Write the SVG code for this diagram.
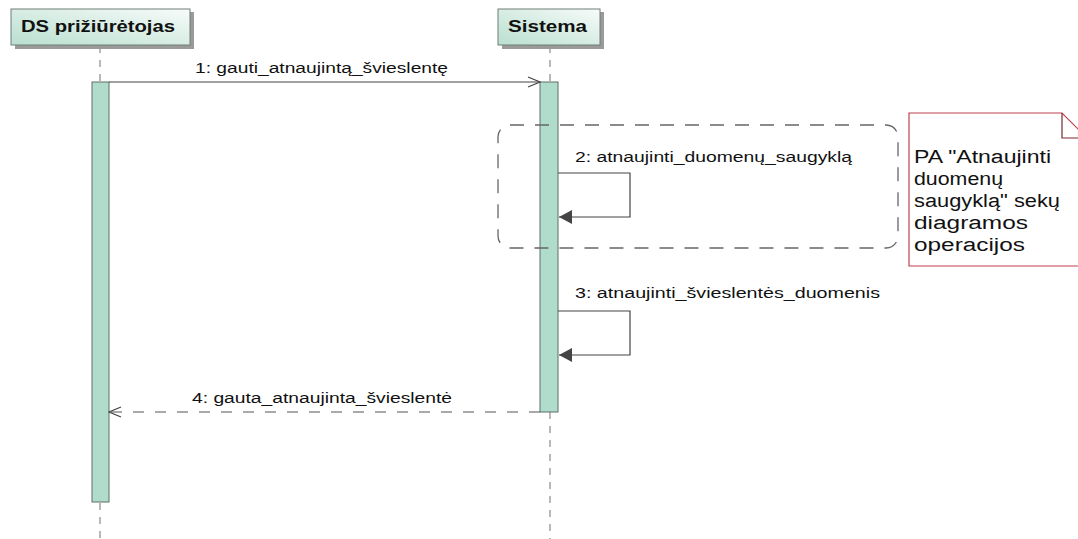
<svg xmlns="http://www.w3.org/2000/svg" width="1078" height="539" viewBox="0 0 1078 539">
  <style>
    .actor { stroke: #6f7f78; stroke-width: 1; fill: url(#actorFill); }
    .shadow { fill: #9a9a9a; }
    .title { font-family: "Liberation Sans", Arial, sans-serif; font-weight: bold; font-size: 16px; fill: #111; }
    .lifeline { stroke: #8a8a8a; stroke-width: 1.2; stroke-dasharray: 7 7; fill: none; }
    .activation { fill: #b0dccb; stroke: #5e6e68; stroke-width: 1; }
    .msg { stroke: #444; stroke-width: 1.2; fill: none; }
    .reply { stroke: #555; stroke-width: 1.2; fill: none; stroke-dasharray: 11 11; }
    .label { font-family: "Liberation Sans", Arial, sans-serif; font-size: 14px; fill: #111; }
    .frame { stroke: #666; stroke-width: 1.3; fill: none; stroke-dasharray: 14 11; }
    .note { fill: #ffffff; stroke: #c0404f; stroke-width: 1.2; }
    .noteText { font-family: "Liberation Sans", Arial, sans-serif; font-size: 18px; fill: #111; }
  </style>
  <defs>
    <linearGradient id="actorFill" x1="0" y1="1" x2="1" y2="0">
      <stop offset="0" stop-color="#b9dfd0"/>
      <stop offset="1" stop-color="#f7fbf9"/>
    </linearGradient>
    <marker id="open" markerWidth="14" markerHeight="12" refX="13" refY="6" orient="auto" markerUnits="userSpaceOnUse">
      <path d="M1,1 L13,6 L1,11" fill="none" stroke="#444" stroke-width="1.2"/>
    </marker>
    <marker id="filled" markerWidth="14" markerHeight="14" refX="13" refY="7" orient="auto" markerUnits="userSpaceOnUse">
      <path d="M0,0 L13,7 L0,14 Z" fill="#444"/>
    </marker>
  </defs>

  <rect width="1078" height="539" fill="#ffffff"/>

  <!-- lifelines -->
  <g id="lifelines">
    <line class="lifeline" x1="100" y1="46" x2="100" y2="82"/>
    <line class="lifeline" x1="100" y1="503" x2="100" y2="539"/>
    <line class="lifeline" x1="550" y1="46" x2="550" y2="82"/>
    <line class="lifeline" x1="550" y1="412" x2="550" y2="539"/>
  </g>

  <!-- participants -->
  <g id="actor-ds">
    <rect class="shadow" x="15" y="12" width="179" height="37"/>
    <rect class="actor" x="11" y="9" width="179" height="36"/>
    <text class="title" x="21" y="32" textLength="154" lengthAdjust="spacingAndGlyphs">DS prižiūrėtojas</text>
  </g>
  <g id="actor-sistema">
    <rect class="shadow" x="502" y="12" width="102" height="37"/>
    <rect class="actor" x="498" y="9" width="102" height="36"/>
    <text class="title" x="508" y="32" textLength="79" lengthAdjust="spacingAndGlyphs">Sistema</text>
  </g>

  <!-- activation bars -->
  <g id="activations">
    <rect class="activation" x="92" y="82" width="17" height="420"/>
    <rect class="activation" x="540" y="82" width="18" height="330"/>
  </g>

  <!-- combined fragment -->
  <g id="fragment">
    <rect class="frame" x="498" y="125" width="400" height="123" rx="12" ry="12"/>
  </g>

  <!-- messages -->
  <g id="connectors">
    <line class="msg" x1="109" y1="82" x2="540" y2="82" marker-end="url(#open)"/>
    <text class="label" x="195" y="73" textLength="253" lengthAdjust="spacingAndGlyphs">1: gauti_atnaujintą_švieslentę</text>

    <path class="msg" d="M558,173 H630 V217 H559" marker-end="url(#filled)"/>
    <text class="label" x="575" y="162" textLength="277" lengthAdjust="spacingAndGlyphs">2: atnaujinti_duomenų_saugyklą</text>

    <path class="msg" d="M558,311 H630 V355 H559" marker-end="url(#filled)"/>
    <text class="label" x="575" y="298" textLength="305" lengthAdjust="spacingAndGlyphs">3: atnaujinti_švieslentės_duomenis</text>

    <line class="reply" x1="540" y1="412" x2="109" y2="412" marker-end="url(#open)"/>
    <text class="label" x="192" y="403" textLength="260" lengthAdjust="spacingAndGlyphs">4: gauta_atnaujinta_švieslentė</text>
  </g>

  <!-- note -->
  <g id="note">
    <path class="note" d="M909,113 H1062 L1090,141 V266 H909 Z"/>
    <path d="M1062,113 V138 H1090" fill="none" stroke="#7a2a30" stroke-width="1.2"/>
    <text class="noteText" x="914" y="163" textLength="137" lengthAdjust="spacingAndGlyphs">PA "Atnaujinti</text>
    <text class="noteText" x="914" y="185" textLength="89" lengthAdjust="spacingAndGlyphs">duomenų</text>
    <text class="noteText" x="914" y="207" textLength="146" lengthAdjust="spacingAndGlyphs">saugyklą" sekų</text>
    <text class="noteText" x="914" y="229" textLength="114" lengthAdjust="spacingAndGlyphs">diagramos</text>
    <text class="noteText" x="914" y="251" textLength="111" lengthAdjust="spacingAndGlyphs">operacijos</text>
  </g>
</svg>
